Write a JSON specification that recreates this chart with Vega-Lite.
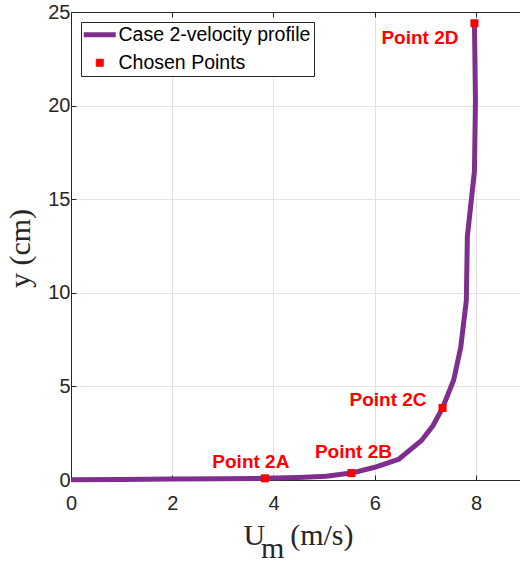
{
  "$schema": "https://vega.github.io/schema/vega-lite/v6.json",
  "width": 449,
  "height": 468,
  "autosize": "none",
  "padding": {"left": 71, "top": 12, "right": 0, "bottom": 82},
  "background": "white",
  "datasets": {
    "profile": [
      {"u": 0.0, "y": 0.02},
      {"u": 1.0, "y": 0.03},
      {"u": 2.0, "y": 0.05},
      {"u": 3.0, "y": 0.07},
      {"u": 3.83, "y": 0.09},
      {"u": 4.5, "y": 0.14},
      {"u": 5.04, "y": 0.2},
      {"u": 5.54, "y": 0.37},
      {"u": 6.0, "y": 0.68},
      {"u": 6.48, "y": 1.12},
      {"u": 6.92, "y": 2.1},
      {"u": 7.15, "y": 2.9},
      {"u": 7.34, "y": 3.85},
      {"u": 7.56, "y": 5.34},
      {"u": 7.7, "y": 7.1},
      {"u": 7.81, "y": 9.6},
      {"u": 7.83, "y": 13.0},
      {"u": 7.97, "y": 16.5},
      {"u": 7.99, "y": 20.3},
      {"u": 7.97, "y": 24.4}
    ],
    "chosen": [
      {"u": 3.83, "y": 0.09, "label": "Point 2A"},
      {"u": 5.54, "y": 0.37, "label": "Point 2B"},
      {"u": 7.34, "y": 3.85, "label": "Point 2C"},
      {"u": 7.97, "y": 24.4, "label": "Point 2D"}
    ]
  },
  "config": {
    "view": {"stroke": null},
    "axis": {
      "domainColor": "#262626",
      "domainWidth": 1,
      "tickColor": "#262626",
      "tickWidth": 1,
      "tickSize": -5,
      "gridColor": "#e2e2e2",
      "gridWidth": 1,
      "labelFont": "Liberation Sans",
      "labelFontSize": 20,
      "labelColor": "#262626",
      "labelFlush": false,
      "labelOverlap": false,
      "titleFont": "Liberation Serif",
      "titleFontSize": 30,
      "titleFontWeight": "normal",
      "titleColor": "#262626"
    },
    "text": {"font": "Liberation Sans"}
  },
  "layer": [
    {
      "data": {"name": "profile"},
      "mark": {"type": "line", "strokeWidth": 5, "strokeCap": "butt", "strokeJoin": "round"},
      "encoding": {
        "x": {
          "field": "u",
          "type": "quantitative",
          "scale": {"domain": [0, 8.87], "nice": false, "zero": false},
          "axis": {
            "orient": "bottom",
            "values": [0, 2, 4, 6, 8],
            "grid": true,
            "labelPadding": 18,
            "title": ["U\u00a0\u00a0\u00a0\u200a(m/s)", "\u200c\u00a0\u00a0\u200am"],
            "titleAlign": "left",
            "titleBaseline": "alphabetic",
            "titleLineHeight": 13,
            "titleX": 172,
            "titleY": 64
          }
        },
        "y": {
          "field": "y",
          "type": "quantitative",
          "scale": {"domain": [0, 25], "nice": false},
          "axis": {
            "values": [0, 5, 10, 15, 20, 25],
            "grid": true,
            "labelPadding": 6,
            "title": "y (cm)",
            "titleAngle": 270,
            "titleAlign": "center",
            "titleBaseline": "alphabetic",
            "titleX": -42,
            "titleY": 236
          }
        },
        "order": {"field": "y", "type": "quantitative"},
        "color": {
          "datum": "Case 2-velocity profile",
          "scale": {
            "domain": ["Case 2-velocity profile", "Chosen Points"],
            "range": ["#7E2F8E", "#FF0000"]
          },
          "legend": {
            "title": null,
            "orient": "none",
            "legendX": 10,
            "legendY": 10,
            "direction": "vertical",
            "padding": 3,
            "rowPadding": 7,
            "strokeColor": "#262626",
            "fillColor": "white",
            "cornerRadius": 0,
            "labelFont": "Liberation Sans",
            "labelFontSize": 19.5,
            "labelColor": "#000000",
            "labelLimit": 400,
            "labelOffset": 9,
            "symbolOffset": 6,
            "symbolSize": 1024,
            "symbolStrokeWidth": 5,
            "symbolType": "stroke",
            "encode": {
              "symbols": {
                "update": {
                  "shape": {"signal": "datum.value === 'Chosen Points' ? 'square' : 'stroke'"},
                  "size": {"signal": "datum.value === 'Chosen Points' ? 49 : 1024"},
                  "strokeWidth": {"signal": "datum.value === 'Chosen Points' ? 1 : 5"},
                  "fill": {"signal": "datum.value === 'Chosen Points' ? '#FF0000' : 'transparent'"},
                  "stroke": {"signal": "datum.value === 'Chosen Points' ? '#FF0000' : '#7E2F8E'"},
                  "opacity": {"value": 1}
                }
              }
            }
          }
        }
      }
    },
    {
      "data": {"name": "chosen"},
      "mark": {"type": "point", "shape": "square", "filled": true, "size": 64, "opacity": 1},
      "encoding": {
        "x": {
          "field": "u",
          "type": "quantitative",
          "axis": {
            "orient": "top",
            "values": [0, 2, 4, 6, 8],
            "grid": false,
            "labels": false,
            "title": null
          }
        },
        "y": {"field": "y", "type": "quantitative"},
        "color": {"datum": "Chosen Points"}
      }
    },
    {
      "data": {"name": "chosen"},
      "transform": [{"filter": "datum.label === 'Point 2A'"}],
      "mark": {"type": "text", "align": "center", "baseline": "alphabetic", "dx": -14, "dy": -10, "fontSize": 19, "fontWeight": "bold", "color": "#FF0000"},
      "encoding": {
        "x": {"field": "u", "type": "quantitative", "axis": null},
        "y": {"field": "y", "type": "quantitative"},
        "text": {"field": "label"}
      }
    },
    {
      "data": {"name": "chosen"},
      "transform": [{"filter": "datum.label === 'Point 2B'"}],
      "mark": {"type": "text", "align": "center", "baseline": "alphabetic", "dx": 2, "dy": -15, "fontSize": 19, "fontWeight": "bold", "color": "#FF0000"},
      "encoding": {
        "x": {"field": "u", "type": "quantitative", "axis": null},
        "y": {"field": "y", "type": "quantitative"},
        "text": {"field": "label"}
      }
    },
    {
      "data": {"name": "chosen"},
      "transform": [{"filter": "datum.label === 'Point 2C'"}],
      "mark": {"type": "text", "align": "right", "baseline": "alphabetic", "dx": -16, "dy": -2, "fontSize": 19, "fontWeight": "bold", "color": "#FF0000"},
      "encoding": {
        "x": {"field": "u", "type": "quantitative", "axis": null},
        "y": {"field": "y", "type": "quantitative"},
        "text": {"field": "label"}
      }
    },
    {
      "data": {"name": "chosen"},
      "transform": [{"filter": "datum.label === 'Point 2D'"}],
      "mark": {"type": "text", "align": "right", "baseline": "alphabetic", "dx": -16, "dy": 21, "fontSize": 19, "fontWeight": "bold", "color": "#FF0000"},
      "encoding": {
        "x": {"field": "u", "type": "quantitative", "axis": null},
        "y": {"field": "y", "type": "quantitative"},
        "text": {"field": "label"}
      }
    }
  ],
  "resolve": {"axis": {"x": "independent"}}
}
